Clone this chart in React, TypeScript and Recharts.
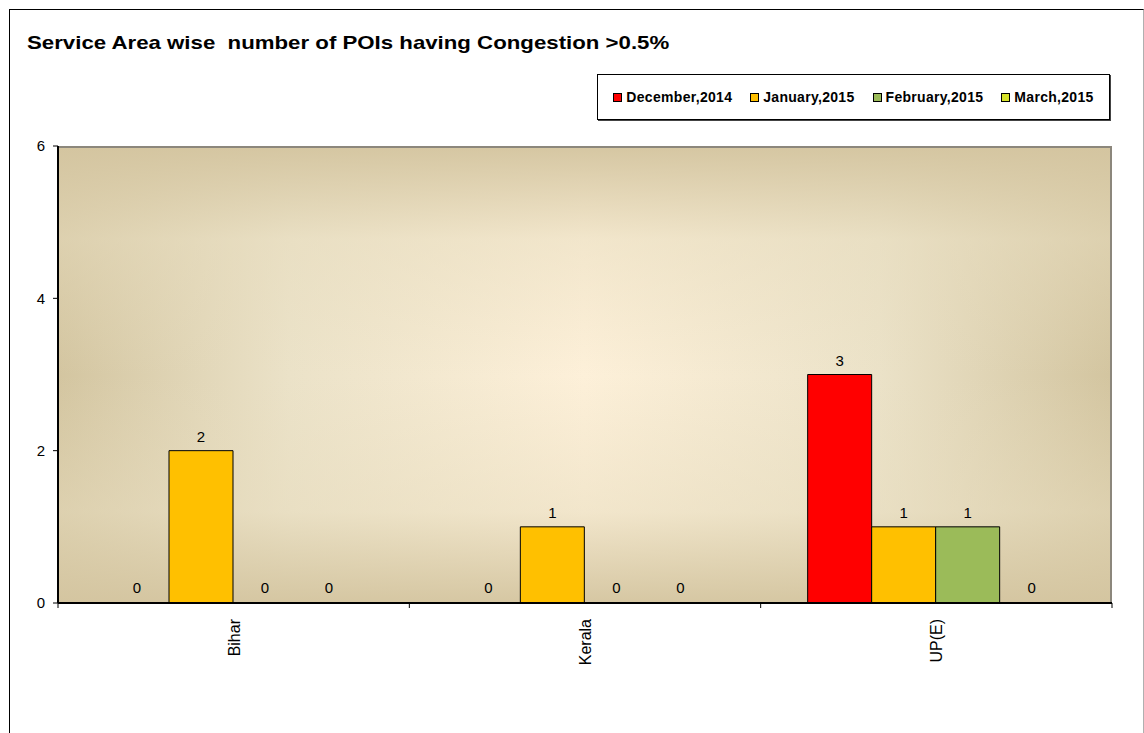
import { Bar, BarChart, Cell, LabelList, XAxis, YAxis } from "recharts";

const FONT = "Arial, 'Liberation Sans', sans-serif";

const areas = ["Bihar", "Kerala", "UP(E)"];
const dec2014 = [0, 0, 3];
const jan2015 = [2, 1, 1];
const feb2015 = [0, 0, 1];
const mar2015 = [0, 0, 0];
const yTicks = [0, 2, 4, 6];

const SERIES = [
  { key: "dec", name: "December,2014", color: "#ff0000", values: dec2014 },
  { key: "jan", name: "January,2015", color: "#ffc000", values: jan2015 },
  { key: "feb", name: "February,2015", color: "#9bbb59", values: feb2015 },
  { key: "mar", name: "March,2015", color: "#d7e32a", values: mar2015 },
];

const data = areas.map((area, i) => {
  const row: Record<string, string | number> = { area };
  SERIES.forEach((s) => (row[s.key] = s.values[i]));
  return row;
});

// plot box: x 58..1112, y 146..603
const PLOT = { left: 58, top: 146, right: 1112, bottom: 603 };
const BAND = (PLOT.right - PLOT.left) / areas.length;

function AreaTick(props: any) {
  const { x, y, payload, index } = props;
  return (
    <g>
      <line x1={x - BAND / 2} x2={x - BAND / 2} y1={y} y2={y + 5} stroke="#000" />
      {index === areas.length - 1 && (
        <line x1={x + BAND / 2} x2={x + BAND / 2} y1={y} y2={y + 5} stroke="#000" />
      )}
      <text
        x={x + 6}
        y={y + 16}
        transform={`rotate(-90, ${x + 6}, ${y + 16})`}
        textAnchor="end"
        fontSize={16}
        fontFamily={FONT}
        fill="#000"
      >
        {payload.value}
      </text>
    </g>
  );
}

export default function App() {
  return (
    <div style={{ position: "absolute", left: 0, top: 0, width: 1144, height: 733, background: "#fff", overflow: "hidden" }}>
      <div
        style={{
          position: "absolute",
          left: 9,
          top: 9,
          width: 1133,
          height: 760,
          borderLeft: "1px solid #000",
          borderTop: "1px solid #000",
          borderRight: "1px solid #b0b0b0",
        }}
      />
      <div
        style={{
          position: "absolute",
          left: 27,
          top: 32,
          fontFamily: FONT,
          fontWeight: "bold",
          fontSize: 19,
          color: "#000",
          whiteSpace: "pre",
          transform: "scaleX(1.17)",
          transformOrigin: "left top",
        }}
      >
        {"Service Area wise  number of POIs having Congestion >0.5%"}
      </div>

      {/* legend */}
      <div
        style={{
          position: "absolute",
          left: 597,
          top: 74,
          width: 511,
          height: 44,
          border: "1px solid #000",
          boxShadow: "1px 1px 0 #444",
          display: "flex",
          alignItems: "center",
          justifyContent: "center",
          gap: 18,
          fontFamily: FONT,
          fontWeight: "bold",
          fontSize: 14,
          letterSpacing: 0.3,
        }}
      >
        {SERIES.map((s) => (
          <div key={s.key} style={{ display: "flex", alignItems: "center", gap: 4 }}>
            <span style={{ width: 7, height: 7, background: s.color, border: "1px solid #000", display: "inline-block" }} />
            <span>{s.name}</span>
          </div>
        ))}
      </div>

      {/* plot backdrop */}
      <div
        style={{
          position: "absolute",
          left: PLOT.left,
          top: PLOT.top,
          width: PLOT.right - PLOT.left,
          height: PLOT.bottom - PLOT.top,
          boxSizing: "border-box",
          borderTop: "2px solid #8c877c",
          borderRight: "2px solid #8c877c",
          background:
            "linear-gradient(to bottom, rgba(212,197,160,0.95) 0%, rgba(231,220,190,0.5) 20%, rgba(250,238,215,0) 50%, rgba(231,220,190,0.5) 80%, rgba(212,197,160,0.95) 100%), linear-gradient(to right, #d3c5a0 0%, #ebe2c8 22%, #fdf0d9 50%, #ebe2c8 78%, #d3c5a0 100%)",
        }}
      />

      <div style={{ position: "absolute", left: 0, top: 0 }}>
        <BarChart
          width={1144}
          height={733}
          data={data}
          margin={{ top: PLOT.top, right: 1144 - PLOT.right, bottom: 50, left: 8 }}
          barCategoryGap={47}
          barGap={0}
        >
          <YAxis
            width={50}
            domain={[0, 6]}
            ticks={yTicks}
            interval={0}
            axisLine={{ stroke: "#000", strokeWidth: 2 }}
            tickLine={{ stroke: "#000" }}
            tickSize={5}
            tickMargin={8}
            tick={{ fill: "#000", fontSize: 15, fontFamily: FONT }}
          />
          <XAxis
            dataKey="area"
            height={80}
            interval={0}
            axisLine={{ stroke: "#000", strokeWidth: 2 }}
            tickLine={false}
            tickSize={0}
            tickMargin={0}
            tick={<AreaTick />}
          />
          {SERIES.map((s) => (
            <Bar
              key={s.key}
              dataKey={s.key}
              name={s.name}
              fill={s.color}
              stroke="#000"
              strokeWidth={1}
              minPointSize={1}
              isAnimationActive={false}
            >
              {s.values.map((v, i) => (
                <Cell key={i} fill={v === 0 ? "none" : s.color} stroke={v === 0 ? "none" : "#000"} />
              ))}
              <LabelList dataKey={s.key} position="top" offset={9} fill="#000" fontSize={15} fontFamily={FONT} />
            </Bar>
          ))}
        </BarChart>
      </div>
    </div>
  );
}
